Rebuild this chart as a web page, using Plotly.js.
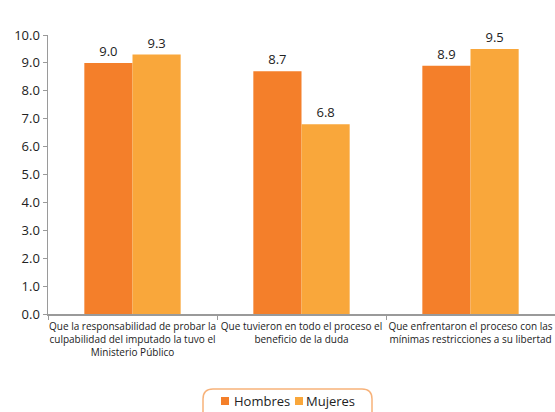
<!DOCTYPE html>
<html><head><meta charset="utf-8">
<script src="https://cdn.plot.ly/plotly-3.0.1.min.js"></script>
<style>html,body{margin:0;padding:0;background:#fff}#c{width:555px;height:412px}</style>
</head><body><div id="c"></div>
<script>
const categories = [
  "Que la responsabilidad de probar la<br>culpabilidad del imputado la tuvo el<br>Ministerio Público",
  "Que tuvieron en todo el proceso el<br>beneficio de la duda",
  "Que enfrentaron el proceso con las<br>mínimas restricciones a su libertad"
];
const hombres = [9.0, 8.7, 8.9];
const mujeres = [9.3, 6.8, 9.5];
const seriesNames = ["Hombres", "Mujeres"];
const colors = ["#F47F2A", "#F9A73B"];

const mk = (name, y, color) => ({
  type: "bar", name: name, x: categories, y: y,
  marker: {color: color},
  texttemplate: "%{y:.1f}", textposition: "outside", cliponaxis: false,
  textfont: {family: "Open Sans", size: 13, color: "#222"},
  hoverinfo: "none"
});

// paper coordinates from canvas pixels (plot area: x 48..555, y 35..314)
const W = 507, H = 279;
const px = v => (v - 48) / W, py = v => (314 - v) / H;
const rx = 10 / W, ry = 10 / H;
const x0 = px(203), x1 = px(372), y1 = py(389), y0 = py(422);
const framePath = `M ${x0+rx},${y1} L ${x1-rx},${y1} Q ${x1},${y1} ${x1},${y1-ry} L ${x1},${y0+ry} Q ${x1},${y0} ${x1-rx},${y0} L ${x0+rx},${y0} Q ${x0},${y0} ${x0},${y0+ry} L ${x0},${y1-ry} Q ${x0},${y1} ${x0+rx},${y1} Z`;

// custom compact legend (swatch + label per series)
const legendSwatchX = [221, 295];
const legendTextX = [232, 304];
const shapes = [{type: "path", xref: "paper", yref: "paper", path: framePath,
                 line: {color: "#F7B27A", width: 1.5}, fillcolor: "rgba(0,0,0,0)"}];
const annotations = [];
seriesNames.forEach((n, i) => {
  shapes.push({type: "rect", xref: "paper", yref: "paper",
    x0: px(legendSwatchX[i]), x1: px(legendSwatchX[i] + 8), y0: py(405), y1: py(397),
    fillcolor: colors[i], line: {width: 0}});
  annotations.push({xref: "paper", yref: "paper", x: px(legendTextX[i]), y: py(401),
    xanchor: "left", yanchor: "middle", showarrow: false, text: n,
    font: {family: "Open Sans", size: 13, color: "#222"}});
});

Plotly.newPlot("c", [mk(seriesNames[0], hombres, colors[0]), mk(seriesNames[1], mujeres, colors[1])], {
  width: 555, height: 412,
  margin: {l: 48, r: 0, t: 35, b: 98},
  font: {family: "Open Sans", color: "#222"},
  barmode: "group", bargap: 0.43, bargroupgap: 0,
  showlegend: false,
  xaxis: {showline: true, linecolor: "#9a9a9a", linewidth: 1.5, ticks: "outside", tickson: "boundaries",
          ticklen: 4, tickcolor: "#9a9a9a", tickangle: 0, ticklabelstandoff: 2,
          tickfont: {size: 10, color: "#222"}, showgrid: false,
          fixedrange: true, automargin: false},
  yaxis: {range: [0, 10], dtick: 1, tickformat: ".1f", showline: true, linecolor: "#9a9a9a", linewidth: 1.5,
          ticks: "outside", ticklen: 4, tickcolor: "#9a9a9a", showgrid: false, zeroline: false,
          tickfont: {size: 13, color: "#222"}, fixedrange: true, automargin: false},
  shapes: shapes,
  annotations: annotations
}, {displayModeBar: false, staticPlot: true});
</script></body></html>
